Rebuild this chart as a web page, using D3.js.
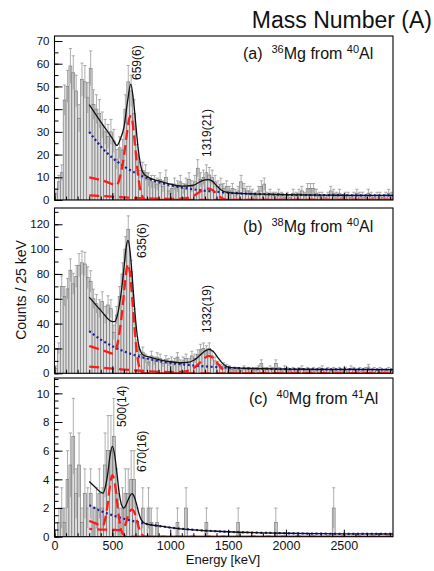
<!DOCTYPE html>
<html lang="en">
<head>
<meta charset="utf-8">
<script src="https://d3js.org/d3.v7.min.js"></script>
<style>
  body { margin: 0; background: #fff; }
  svg text { font-family: "Liberation Sans", Arial, sans-serif; fill: #111; }
</style>
</head>
<body>
<div id="chart"></div>
<script>
// histogram bin width in keV
const binWidth = 25;
const xTickValues = [0, 500, 1000, 1500, 2000, 2500];

// counts per 25 keV bin (bin i covers [25i, 25i+25])
const countsA = [
  3, 8, 12, 44, 50, 59, 56, 48, 36, 53,
  52, 45, 58, 42, 40, 38, 33, 30, 28, 30,
  26, 18, 23, 22, 40, 52, 48, 38, 20, 13,
  13, 12, 9, 8, 8, 7, 9, 6, 10, 4,
  5, 7, 6, 8, 5, 7, 9, 6, 8, 14,
  9, 10, 12, 11, 10, 8, 6, 7, 5, 6,
  4, 5, 3, 4, 8, 5, 4, 4, 3, 2,
  4, 6, 7, 2, 3, 2, 2, 3, 2, 1,
  2, 1, 3, 2, 3, 4, 2, 5, 5, 5,
  3, 2, 2, 1, 2, 4, 3, 2, 3, 1,
  2, 2, 1, 2, 3, 2, 2, 1, 3, 2,
  1, 2, 2, 1, 2, 3, 2
];
const countsB = [
  4, 20, 70, 62, 68, 83, 72, 78, 87, 89,
  88, 77, 74, 60, 56, 52, 58, 47, 55, 52,
  33, 47, 62, 80, 100, 116, 82, 45, 22, 15,
  17, 12, 9, 14, 10, 13, 12, 8, 11, 9,
  10, 9, 13, 8, 10, 12, 9, 14, 12, 15,
  19, 20, 18, 20, 14, 10, 7, 5, 6, 5,
  4, 3, 2, 3, 2, 4, 3, 3, 2, 3,
  4, 8, 3, 3, 4, 3, 8, 3, 2, 4,
  3, 2, 3, 2, 3, 4, 2, 3, 2, 3,
  2, 3, 4, 2, 3, 2, 3, 2, 3, 2,
  3, 2, 4, 3, 2, 3, 2, 3, 5, 2,
  3, 2, 3, 2, 2, 3, 2
];
const countsC = [
  0, 1, 2, 1, 4, 5, 7, 3, 5, 1,
  3, 2, 3, 1, 2, 3, 2, 5, 6, 6,
  7, 3, 1, 2, 3, 3, 4, 4, 1, 0,
  2, 0, 2, 1, 0, 1, 0, 0, 0, 0,
  0, 0, 1, 0, 0, 2, 0, 0, 0, 0,
  0, 0, 1, 0, 0, 0, 0, 0, 0, 0,
  0, 0, 0, 1, 0, 0, 0, 0, 0, 0,
  0, 0, 0, 0, 0, 0, 1, 0, 0, 0,
  0, 0, 0, 0, 0, 0, 0, 0, 0, 0,
  0, 0, 0, 0, 0, 0, 2, 0, 0, 0,
  0, 0, 0, 0, 0, 0, 0, 0, 0, 0,
  0, 0, 0, 0, 0, 0, 0
];

// fit curves: [energy keV, counts]
const bgA = [[300,30],[400,23.6],[500,18.6],[600,14.8],[700,11.9],[800,9.6],[900,7.8],[1000,6.5],[1200,4.7],[1400,3.6],[1600,2.9],[1800,2.56],[2000,2.33],[2300,2.15],[2600,2.07],[2925,2.03]];
const peak1A = [[300,10],[350,9.4],[400,8.8],[450,8],[500,7],[530,6.5],[550,7.5],[570,11],[590,16],[610,23],[630,31],[650,36.5],[665,37],[680,32],[700,22],[720,12],[740,5],[760,1.5],[780,0.3],[800,0],[2925,0]];
const peak2A = [[300,2],[400,1.8],[500,1.5],[600,1.2],[700,0.9],[800,0.7],[900,0.6],[1000,0.5],[1100,0.6],[1150,0.9],[1200,1.8],[1250,3.4],[1300,4.8],[1330,5],[1360,4.5],[1400,2.8],[1440,1],[1480,0.2],[1520,0],[2925,0]];
const totalA = [[300,42],[400,34.4],[500,27.1],[540,24],[570,27],[600,32],[630,43],[659,51],[680,45],[700,34.8],[720,24],[740,16.6],[760,12.5],[800,10.3],[900,8.4],[1000,7],[1100,6.1],[1200,6.5],[1250,7.8],[1300,8.9],[1330,9],[1360,8.4],[1400,6.4],[1440,4.4],[1480,3.5],[1600,2.9],[1800,2.56],[2000,2.33],[2300,2.15],[2600,2.07],[2925,2.03]];

const bgB = [[300,34],[400,27.1],[500,21.8],[600,17.6],[700,14.4],[800,11.9],[900,9.9],[1000,8.4],[1200,6.3],[1400,5],[1600,4.2],[1800,3.73],[2000,3.44],[2300,3.21],[2600,3.1],[2925,3.04]];
const peak1B = [[300,22],[350,20.5],[400,19],[450,17.5],[500,16],[520,17],[540,22],[560,32],[580,46],[600,64],[620,82],[635,88],[650,82],[670,62],[690,38],[710,18],[730,6],[750,1.5],[770,0],[2925,0]];
const peak2B = [[300,5.4],[400,4.6],[500,3.8],[600,3],[700,2.3],[800,1.7],[900,1.2],[1000,1],[1100,1.2],[1150,2],[1200,4],[1250,8],[1300,12.5],[1335,14],[1370,12.5],[1410,8],[1450,3.5],[1490,0.8],[1530,0],[2925,0]];
const totalB = [[300,61.4],[400,50.7],[500,41.6],[520,41.6],[540,45.5],[560,54.7],[580,67.7],[600,84.6],[620,101.8],[635,107],[650,100.5],[670,79.8],[690,55],[710,34.3],[730,21.7],[750,16.6],[770,14.6],[800,13.6],[900,11.1],[1000,9.4],[1100,8.5],[1150,8.8],[1200,10.3],[1250,13.9],[1300,18],[1335,19.3],[1370,17.7],[1410,12.9],[1450,8.2],[1490,5.4],[1530,4.5],[1600,4.2],[1800,3.73],[2000,3.44],[2300,3.21],[2600,3.1],[2925,3.04]];

const bgC = [[300,2.2],[400,1.8],[500,1.5],[600,1.25],[700,1.05],[800,0.88],[900,0.75],[1000,0.64],[1200,0.48],[1400,0.38],[1600,0.31],[1800,0.27],[2000,0.24],[2300,0.21],[2600,0.2],[2925,0.19]];
const peak1C = [[300,1.1],[350,0.95],[400,0.8],[420,0.8],[440,1.3],[460,2.3],[480,3.6],[500,4.3],[520,3.8],[540,2.5],[560,1.2],[580,0.4],[600,0.1],[620,0],[2925,0]];
const peak2C = [[300,0.55],[400,0.5],[500,0.5],[550,0.45],[590,0.5],[610,0.8],[630,1.3],[650,1.75],[670,1.9],[690,1.7],[710,1.2],[730,0.6],[750,0.2],[770,0.05],[790,0],[2925,0]];
const totalC = [[300,3.85],[350,3.47],[400,3.1],[420,3.04],[440,3.5],[460,4.4],[480,5.66],[500,6.3],[520,5.7],[540,4.4],[560,3],[580,2.2],[600,2],[620,2.25],[640,2.65],[670,3],[690,2.77],[710,2.24],[730,1.6],[750,1.17],[770,0.99],[800,0.88],[900,0.75],[1000,0.64],[1200,0.48],[1400,0.38],[1600,0.31],[1800,0.27],[2000,0.24],[2300,0.21],[2600,0.2],[2925,0.19]];

// panel layout
const panels = [
  { counts: countsA, bg: bgA, p1: peak1A, p2: peak2A, total: totalA,
    top: 36, bottom: 200, ymax: 72.2, major: 10, minor: 5,
    tag: "(a)", iso: "36", nuc: "40", lx: 243, ly: 59,
    peaks: [{t: "659(6)", x: 141, y: 80}, {t: "1319(21)", x: 211, y: 157}] },
  { counts: countsB, bg: bgB, p1: peak1B, p2: peak2B, total: totalB,
    top: 208, bottom: 373.3, ymax: 133.1, major: 20, minor: 10,
    tag: "(b)", iso: "38", nuc: "40", lx: 243, ly: 232,
    peaks: [{t: "635(6)", x: 146, y: 258}, {t: "1332(19)", x: 211, y: 333}] },
  { counts: countsC, bg: bgC, p1: peak1C, p2: peak2C, total: totalC,
    top: 378, bottom: 536.7, ymax: 11.07, major: 2, minor: 0.5, last: true,
    tag: "(c)", iso: "40", nuc: "41", lx: 249, ly: 404,
    peaks: [{t: "500(14)", x: 126, y: 427}, {t: "670(16)", x: 146, y: 472}] }
];

const left = 54.5, right = 393;
const svg = d3.select("#chart").append("svg")
  .attr("width", 434).attr("height", 571);

const x = d3.scaleLinear().domain([0, 2925]).range([left, right]);

panels.forEach(function(p, k) {
  const y = d3.scaleLinear().domain([0, p.ymax]).range([p.bottom, p.top]);
  const clipId = "clip" + k;
  svg.append("clipPath").attr("id", clipId).append("rect")
    .attr("x", left).attr("y", p.top)
    .attr("width", right - left).attr("height", p.bottom - p.top);

  const plot = svg.append("g").attr("clip-path", "url(#" + clipId + ")");

  const bins = p.counts.map(function(c, i) {
    return { e0: i * binWidth, e1: (i + 1) * binWidth, c: c };
  }).filter(function(d) { return d.c > 0; });

  // bars
  plot.selectAll("rect.bar").data(bins).join("rect")
    .attr("class", "bar")
    .attr("x", function(d) { return x(d.e0); })
    .attr("width", function(d) { return x(d.e1) - x(d.e0); })
    .attr("y", function(d) { return y(d.c); })
    .attr("height", function(d) { return y(0) - y(d.c); })
    .attr("fill", "#dedede")
    .attr("stroke", "#6a6a6a")
    .attr("stroke-width", 0.6);

  // error bars (sqrt N)
  const err = plot.append("g").attr("stroke", "#8c8c8c").attr("stroke-width", 0.7);
  err.selectAll("line.v").data(bins).join("line")
    .attr("class", "v")
    .attr("x1", function(d) { return x((d.e0 + d.e1) / 2); })
    .attr("x2", function(d) { return x((d.e0 + d.e1) / 2); })
    .attr("y1", function(d) { return y(d.c - Math.sqrt(d.c)); })
    .attr("y2", function(d) { return y(d.c + Math.sqrt(d.c)); });
  err.selectAll("line.cap").data(bins).join("line")
    .attr("class", "cap")
    .attr("x1", function(d) { return x((d.e0 + d.e1) / 2) - 1.6; })
    .attr("x2", function(d) { return x((d.e0 + d.e1) / 2) + 1.6; })
    .attr("y1", function(d) { return y(d.c + Math.sqrt(d.c)); })
    .attr("y2", function(d) { return y(d.c + Math.sqrt(d.c)); });

  // start of fit range
  plot.append("line")
    .attr("x1", x(p.bg[0][0])).attr("x2", x(p.bg[0][0]))
    .attr("y1", y(0)).attr("y2", y(p.bg[0][1]))
    .attr("stroke", "#fff").attr("stroke-width", 1);

  const line = d3.line()
    .x(function(d) { return x(d[0]); })
    .y(function(d) { return y(d[1]); })
    .curve(d3.curveMonotoneX);

  plot.append("path").datum(p.bg)
    .attr("d", line).attr("fill", "none")
    .attr("stroke", "#1c1ca0").attr("stroke-width", 2.2)
    .attr("stroke-dasharray", "2,2.6");
  plot.append("path").datum(p.p1)
    .attr("d", line).attr("fill", "none")
    .attr("stroke", "#ff1a1a").attr("stroke-width", 2.3)
    .attr("stroke-dasharray", "10,5");
  plot.append("path").datum(p.p2)
    .attr("d", line).attr("fill", "none")
    .attr("stroke", "#ff1a1a").attr("stroke-width", 2.3)
    .attr("stroke-dasharray", "10,5")
    .attr("stroke-dashoffset", p.last ? 7 : 0);
  plot.append("path").datum(p.total)
    .attr("d", line).attr("fill", "none")
    .attr("stroke", "#111").attr("stroke-width", 1.3);

  // y axis: ticks point inward
  const yMinor = d3.range(0, p.ymax, p.minor);
  const yMajor = d3.range(0, p.ymax, p.major);
  svg.append("g").attr("transform", "translate(" + left + ",0)")
    .call(d3.axisLeft(y).tickValues(yMinor).tickSize(-4).tickFormat(""))
    .call(function(g) { g.select(".domain").remove(); });
  svg.append("g").attr("transform", "translate(" + left + ",0)")
    .call(d3.axisLeft(y).tickValues(yMajor).tickSize(-8).tickPadding(5))
    .call(function(g) {
      g.select(".domain").remove();
      g.selectAll("text").style("font-size", "11.5px");
    });

  // x axis
  svg.append("g").attr("transform", "translate(0," + p.bottom + ")")
    .call(d3.axisBottom(x).tickValues(d3.range(0, 2925, 100)).tickSize(-3.5).tickFormat(""))
    .call(function(g) { g.select(".domain").remove(); });
  svg.append("g").attr("transform", "translate(0," + p.bottom + ")")
    .call(d3.axisBottom(x).tickValues(xTickValues).tickSize(-7).tickPadding(4)
      .tickFormat(p.last ? d3.format("d") : ""))
    .call(function(g) {
      g.select(".domain").remove();
      g.selectAll("text").style("font-size", "12.5px");
    });

  // frame
  svg.append("rect")
    .attr("x", left).attr("y", p.top)
    .attr("width", right - left).attr("height", p.bottom - p.top)
    .attr("fill", "none").attr("stroke", "#000").attr("stroke-width", 1.1);

  // panel title
  const t = svg.append("text").attr("x", p.lx).attr("y", p.ly).style("font-size", "16px");
  t.append("tspan").text(p.tag + "\u00a0\u00a0");
  t.append("tspan").attr("dy", -6).style("font-size", "11px").text(p.iso);
  t.append("tspan").attr("dy", 6).text("Mg from ");
  t.append("tspan").attr("dy", -6).style("font-size", "11px").text(p.nuc);
  t.append("tspan").attr("dy", 6).text("Al");

  // peak energies
  p.peaks.forEach(function(pk) {
    svg.append("text")
      .attr("transform", "translate(" + pk.x + "," + pk.y + ") rotate(-90)")
      .style("font-size", "12px")
      .text(pk.t);
  });
});

svg.append("text")
  .attr("transform", "translate(26,290) rotate(-90)")
  .attr("text-anchor", "middle")
  .style("font-size", "14px")
  .text("Counts / 25 keV");

svg.append("text")
  .attr("x", 223).attr("y", 564)
  .attr("text-anchor", "middle")
  .style("font-size", "13px")
  .text("Energy [keV]");

svg.append("text")
  .attr("x", 432).attr("y", 28)
  .attr("text-anchor", "end")
  .style("font-size", "23px")
  .text("Mass Number (A)");
</script>
</body>
</html>
